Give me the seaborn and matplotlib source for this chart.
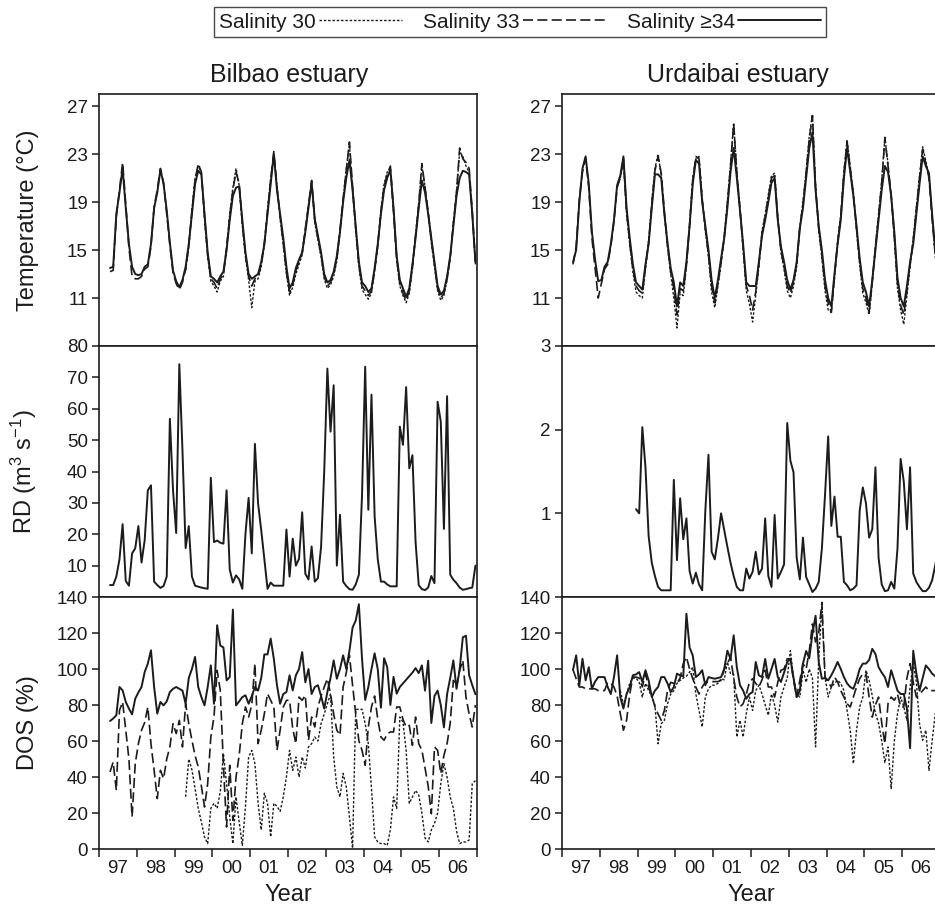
import numpy as np
import matplotlib
matplotlib.use("Agg")
import matplotlib.pyplot as plt
from matplotlib.lines import Line2D
from matplotlib.ticker import FixedLocator, NullFormatter, FixedFormatter
import seaborn as sns

sns.set_theme(style="ticks")
plt.rcParams["font.family"] = ["Liberation Sans", "DejaVu Sans"]
plt.rcParams["mathtext.fontset"] = "custom"
plt.rcParams["mathtext.rm"] = "Liberation Sans"
plt.rcParams["mathtext.it"] = "Liberation Sans:italic"
plt.rcParams["mathtext.default"] = "regular"

nan = np.nan


def monthly(*years):
    """Join yearly lists of monthly values into one series."""
    return np.array([v for yr in years for v in yr], dtype=float)


# monthly sampling: April 1997 .. December 2006 (mid-month, decimal years)
t = 1997 + (np.arange(117) + 3.5) / 12.0

series_labels = ["Salinity 30", "Salinity 33", "Salinity \u226534"]
year_labels = ["97", "98", "99", "00", "01", "02", "03", "04", "05", "06"]

# ---------------- Bilbao estuary: temperature (deg C) ----------------
bil_temp_30 = monthly(
    [nan] * 9,
    [nan] * 12,
    [nan, nan, nan, 13.3, 15.2, 18.4, 21.0, 22.0, 21.4, 17.6, 14.4, 12.4],
    [12.0, 11.5, 12.4, 12.8, 15.0, 18.0, 20.2, 21.8, 20.4, 17.0, 14.4, 12.5],
    [10.2, 12.4, 12.6, 13.6, 15.4, 18.4, 21.0, 23.0, 20.4, 17.6, 15.4, 13.0],
    [11.2, 11.9, 13.0, 13.8, 14.6, 16.6, 18.8, 20.7, 17.3, 15.8, 14.4, 12.6],
    [11.8, 12.1, 12.8, 14.1, 16.5, 19.2, 21.8, 23.8, 20.0, 16.6, 13.6, 11.7],
    [11.3, 10.9, 11.4, 13.2, 15.3, 18.3, 20.5, 21.5, 21.8, 18.1, 14.1, 12.0],
    [11.2, 10.6, 11.4, 13.4, 16.3, 18.9, 22.0, 20.3, 18.0, 15.6, 13.6, 11.6],
    [10.8, 11.2, 12.5, 14.3, 17.3, 19.9, 23.2, 22.8, 22.0, 21.5, 18.0, 13.8],
)
bil_temp_33 = monthly(
    [13.2, 13.3, 17.8, 20.0, 22.3, 18.8, 15.2, 12.8, 12.6],
    [12.6, 12.8, 13.4, 13.6, 15.3, 18.6, 20.0, 21.8, 20.6, 18.0, 15.4, 13.1],
    [12.2, 11.7, 12.3, 13.4, 15.4, 18.2, 20.8, 22.2, 21.5, 17.8, 14.6, 12.6],
    [12.3, 11.8, 12.6, 13.0, 15.2, 17.8, 20.0, 21.5, 20.5, 17.2, 14.6, 12.8],
    [12.0, 12.6, 12.8, 13.8, 15.6, 18.2, 20.8, 23.2, 20.2, 17.8, 15.6, 13.2],
    [11.5, 12.1, 13.3, 14.0, 14.8, 16.8, 18.7, 20.8, 17.5, 16.0, 14.6, 12.8],
    [12.0, 12.3, 13.0, 14.3, 16.6, 19.3, 21.6, 24.0, 20.3, 16.8, 13.8, 12.0],
    [11.6, 11.2, 11.6, 13.3, 15.4, 18.2, 20.3, 21.3, 22.0, 18.3, 14.3, 12.2],
    [11.4, 10.8, 11.6, 13.6, 16.2, 18.8, 22.2, 20.2, 18.2, 15.8, 13.8, 11.8],
    [11.0, 11.4, 12.6, 14.4, 17.2, 19.8, 23.5, 22.6, 22.3, 21.8, 18.2, 14.0],
)
bil_temp_34 = monthly(
    [13.5, 13.6, 18.0, 19.8, 21.8, 18.5, 15.5, 13.6, 13.0],
    [12.9, 13.0, 13.6, 13.8, 15.5, 18.5, 19.8, 21.7, 20.5, 18.3, 15.6, 13.3],
    [12.4, 11.9, 12.5, 13.6, 15.5, 18.0, 20.5, 21.6, 21.3, 18.0, 14.8, 12.8],
    [12.6, 12.3, 12.8, 13.2, 15.0, 17.5, 19.5, 20.2, 20.3, 17.5, 14.8, 13.0],
    [12.6, 12.8, 13.0, 14.0, 15.5, 18.0, 20.5, 23.0, 20.0, 18.0, 16.0, 13.6],
    [11.8, 12.3, 13.5, 14.2, 14.8, 16.5, 18.5, 20.6, 17.6, 16.2, 14.8, 13.0],
    [12.3, 12.5, 13.2, 14.5, 16.5, 19.0, 21.0, 22.5, 20.0, 17.0, 14.0, 12.3],
    [12.0, 11.5, 11.8, 13.5, 15.5, 18.0, 20.0, 21.0, 21.7, 18.5, 14.5, 12.5],
    [11.8, 11.1, 11.8, 13.8, 16.0, 18.5, 20.8, 19.8, 18.0, 16.0, 14.0, 12.0],
    [11.3, 11.6, 12.8, 14.5, 17.0, 19.5, 21.0, 21.6, 21.5, 21.3, 18.0, 14.0],
)

# ---------------- Urdaibai estuary: temperature (deg C) ----------------
urd_temp_30 = monthly(
    [nan] * 9,
    [nan] * 6 + [21.0, 22.5, 18.0, 15.5, 13.2, 11.5],
    [11.2, 11.0, 13.4, 15.8, 19.0, 21.8, 23.0, 21.2, 18.0, 15.2, 13.0, 11.0],
    [8.5, 11.4, 11.2, 13.6, 17.2, 21.0, 22.6, 22.8, 19.4, 16.6, 14.4, 11.5],
    [10.2, 12.0, 13.8, 16.2, 19.0, 22.2, 25.6, 21.6, 18.6, 15.0, 11.6, 10.5],
    [9.0, 11.2, 13.6, 16.6, 18.0, 19.6, 21.2, 21.4, 17.8, 14.8, 13.4, 11.6],
    [11.0, 12.0, 13.6, 17.0, 19.0, 21.6, 24.5, 26.3, 20.4, 16.6, 14.4, 11.6],
    [10.0, 9.8, 12.6, 15.8, 18.0, 21.6, 24.2, 22.0, 19.8, 16.6, 13.8, 11.4],
    [10.6, 9.6, 12.2, 15.4, 18.0, 20.8, 24.4, 22.2, 19.4, 16.0, 11.8, 10.0],
    [8.8, 11.2, 13.6, 16.0, 18.6, 21.2, 23.6, 22.4, 21.2, 17.8, 14.4, 13.0],
)
urd_temp_33 = monthly(
    [13.8, 15.3, 19.2, 21.5, 22.6, 20.2, 16.0, 13.5, 11.0],
    [12.2, 13.4, 13.8, 15.3, 17.4, 20.2, 21.0, 22.6, 18.2, 15.6, 13.4, 12.0],
    [11.6, 11.4, 13.6, 15.6, 18.8, 21.6, 22.8, 21.4, 18.2, 15.4, 13.2, 11.8],
    [9.6, 11.8, 11.6, 13.8, 17.0, 20.8, 22.8, 22.6, 19.2, 16.8, 14.6, 12.0],
    [10.6, 12.2, 14.0, 16.0, 18.8, 22.0, 25.5, 21.4, 18.4, 15.2, 12.0, 11.2],
    [10.0, 11.5, 13.8, 16.4, 17.8, 19.4, 21.0, 21.2, 17.6, 15.0, 13.6, 12.0],
    [11.4, 12.3, 13.8, 16.9, 18.8, 21.4, 24.2, 26.2, 20.2, 16.8, 14.6, 12.0],
    [10.6, 9.8, 12.8, 15.6, 17.8, 21.4, 24.0, 21.8, 19.6, 16.8, 14.0, 11.8],
    [11.0, 9.8, 12.4, 15.2, 17.8, 20.6, 24.3, 22.0, 19.6, 16.2, 12.2, 10.4],
    [9.6, 11.6, 13.8, 15.8, 18.4, 21.0, 23.4, 22.2, 21.0, 17.6, 14.6, 13.2],
)
urd_temp_34 = monthly(
    [14.0, 15.0, 19.0, 21.8, 22.8, 20.5, 16.5, 14.2, 12.4],
    [12.5, 13.6, 14.0, 15.5, 17.5, 20.4, 21.2, 22.8, 18.5, 16.0, 13.8, 12.3],
    [12.0, 11.7, 13.8, 15.5, 18.5, 21.3, 21.3, 21.0, 18.0, 15.6, 13.5, 12.3],
    [10.3, 12.3, 12.0, 14.0, 17.0, 20.5, 22.5, 22.2, 19.0, 17.0, 15.0, 12.5],
    [11.0, 12.5, 14.3, 16.0, 18.5, 21.5, 23.5, 21.0, 18.3, 15.5, 12.3, 12.0],
    [12.0, 12.0, 14.0, 16.2, 17.5, 19.0, 20.6, 21.0, 17.5, 15.3, 14.0, 12.5],
    [11.7, 12.5, 14.0, 16.8, 18.5, 21.0, 23.5, 24.8, 20.0, 17.0, 15.0, 12.5],
    [11.0, 10.3, 13.0, 15.5, 17.5, 21.0, 23.5, 21.5, 19.5, 17.0, 14.3, 12.3],
    [11.5, 10.3, 12.5, 15.0, 17.5, 20.0, 22.0, 21.5, 19.5, 16.5, 12.7, 11.0],
    [10.3, 12.0, 14.0, 15.5, 18.0, 20.5, 22.8, 22.0, 21.4, 18.0, 15.0, 13.5],
)

# ---------------- river discharge (m3 s-1) ----------------
bil_rd = monthly(
    [3.8, 3.8, 6.5, 12.0, 23.2, 5.1, 3.6, 13.9, 15.5],
    [22.6, 11.0, 18.1, 34.0, 35.6, 4.9, 3.8, 2.9, 3.5, 6.5, 56.8, 34.0],
    [20.4, 74.2, 46.6, 15.6, 22.6, 6.5, 3.6, 3.3, 3.0, 2.8, 2.6, 38.0],
    [17.5, 18.0, 17.3, 17.0, 34.0, 8.8, 4.6, 6.9, 5.6, 2.6, 20.2, 31.6],
    [13.9, 48.8, 29.8, 21.3, 12.0, 2.6, 4.6, 3.6, 3.6, 3.6, 3.6, 21.5],
    [6.5, 18.6, 10.0, 12.2, 27.0, 7.4, 5.6, 16.1, 4.9, 6.0, 16.0, 40.0],
    [72.8, 52.7, 67.5, 10.0, 26.2, 4.9, 3.5, 2.5, 2.3, 4.0, 7.1, 32.5],
    [73.4, 27.8, 64.5, 25.7, 12.0, 4.9, 4.9, 4.0, 3.4, 3.4, 3.4, 54.3],
    [48.5, 66.9, 41.0, 45.2, 17.5, 3.8, 2.5, 2.2, 3.0, 6.7, 4.4, 62.2],
    [55.9, 21.7, 64.0, 7.1, 5.5, 4.4, 3.0, 2.3, 2.5, 2.8, 3.0, 10.0],
)
urd_rd = monthly(
    [nan] * 9,
    [nan] * 11 + [1.05],
    [1.0, 2.03, 1.55, 0.73, 0.41, 0.25, 0.12, 0.08, 0.08, 0.08, 0.08, 1.4],
    [0.44, 1.18, 0.69, 0.94, 0.31, 0.16, 0.29, 0.15, 0.08, 1.03, 1.70, 0.54],
    [0.45, 0.7, 1.0, 0.8, 0.6, 0.41, 0.25, 0.12, 0.08, 0.08, 0.34, 0.22],
    [0.3, 0.54, 0.27, 0.34, 0.94, 0.25, 0.12, 0.98, 0.22, 0.30, 0.39, 2.08],
    [1.63, 1.49, 0.47, 0.21, 0.71, 0.24, 0.15, 0.06, 0.1, 0.18, 0.58, 1.22],
    [1.92, 0.85, 1.20, 0.72, 0.72, 0.18, 0.14, 0.08, 0.1, 0.14, 1.03, 1.31],
    [1.12, 0.71, 0.81, 1.55, 0.47, 0.15, 0.07, 0.08, 0.18, 0.1, 0.58, 1.65],
    [1.38, 0.81, 1.55, 0.28, 0.18, 0.12, 0.07, 0.07, 0.11, 0.2, 0.38, 0.6],
)

# ---------------- dissolved oxygen saturation (%) ----------------
bil_dos_30 = monthly(
    [nan] * 9,
    [nan] * 12,
    [nan, nan, nan, 29, 50, 44, 33.6, 22.6, 15, 6.7, 3, 22.6],
    [25.4, 22.6, 31.9, 53, 36.3, 17.8, 3, 28.9, 15, 2, 23.7, 51.1],
    [54.8, 47.4, 25.4, 10.6, 31, 25.4, 6.7, 25.4, 23.7, 20.9, 28.9, 40],
    [54.8, 43.7, 51.1, 40, 51.1, 45, 56.7, 58.5, 62.2, 60, 69.6, 75],
    [80.7, 86.1, 51.1, 34.5, 28.9, 42, 34.5, 17.8, 0.5, 77.6, 77.6, 77.6],
    [69.6, 58.5, 33.6, 6.7, 3.9, 3, 3, 2, 10.6, 28.9, 22.6, 73.3],
    [70.5, 54.8, 25.4, 28.9, 32.5, 30, 20, 6.1, 3.9, 10.6, 14.3, 20],
    [36.3, 47.4, 40, 28.9, 22.6, 10, 3, 3.9, 3.9, 5, 36.3, 38],
)
bil_dos_33 = monthly(
    [42.8, 48.3, 32.6, 77, 81.7, 66, 50, 17.8, 47.4],
    [58.5, 66, 70.3, 78.9, 58.5, 43.7, 28, 43.7, 39.1, 50, 56.7, 69.6],
    [64.1, 71.5, 56.7, 80.7, 69.6, 60.4, 52, 45.6, 35, 23.3, 36.3, 62.2],
    [73.3, 99.3, 88.1, 46.5, 12.2, 46.5, 15.9, 40, 52, 69.6, 78.9, 73.3],
    [80, 103, 58.5, 66, 75.2, 86.3, 82.6, 78.9, 54.8, 66, 78.9, 82.6],
    [82.6, 66.9, 58.5, 84.4, 82.6, 85.4, 60.4, 73.3, 67.8, 78.9, 85, 90],
    [94.6, 86.1, 75, 66, 63.2, 90, 98, 107.6, 91, 75, 60, 54.8],
    [46.5, 67.8, 78.9, 85, 72, 62.2, 60.4, 64, 65, 65, 78.9, 78.9],
    [72, 67.8, 68.7, 57.6, 73.3, 58.5, 55, 45, 35, 19.6, 56.7, 54.8],
    [41.9, 52, 58.5, 70, 93.7, 90, 99.3, 104.8, 84.4, 75, 67.8, 80],
)
bil_dos_34 = monthly(
    [71.1, 72.5, 74.3, 90, 88.1, 81.7, 78, 74.8, 83.5],
    [87, 90, 98.3, 103, 110.4, 90, 75.2, 81.7, 79.8, 82, 87.2, 89],
    [90, 89, 88, 80.7, 95, 100, 106.7, 90, 84.4, 79.8, 90, 102],
    [80.7, 124.3, 113, 112, 93.7, 95.5, 133, 79.8, 82, 84.4, 85.4, 80.7],
    [85, 90, 88, 95, 108.1, 108.1, 116.9, 105.6, 91, 80.7, 86.1, 87.2],
    [96.5, 88.1, 96.5, 100, 109.4, 92.6, 100, 86.1, 90, 91, 85, 78],
    [87.2, 95, 104.8, 94.6, 100, 107.6, 100, 110, 123, 127, 136, 105.6],
    [82.8, 90, 100, 108.7, 99.8, 78.5, 106, 101, 80, 95.6, 86.3, 90],
    [92, 94, 96, 98, 100.5, 97.7, 102, 88, 104.6, 70, 85, 88],
    [80, 67.6, 86, 95, 104.8, 89, 100, 117.6, 118.5, 96.5, 91, 86],
)
urd_dos_30 = monthly(
    [nan] * 9,
    [nan] * 6 + [88, 80, 86, 92, 95, 95],
    [92.6, 84.4, 92, 88, 85, 80, 58.5, 69.6, 71.5, 80.7, 86, 88],
    [92, 93.7, 95, 96, 98.3, 101, 86, 77, 67.8, 84.4, 89, 91],
    [91, 92, 94.6, 94, 103.9, 97.4, 97, 62.2, 71.5, 62.2, 75.2, 84.4],
    [77, 88, 91, 86.1, 80, 74.3, 86.1, 80, 70.5, 84.4, 90, 95],
    [110.2, 95.5, 86.1, 84.4, 99.3, 92.6, 100, 95, 56.7, 105.7, 135, 95.5],
    [84.4, 90, 92, 93.7, 92, 88, 77, 66, 47.4, 66, 78.9, 84.4],
    [99.3, 93.7, 85, 75.2, 70, 60, 48, 56.7, 33.5, 60, 75.2, 84.4],
    [79, 71.5, 90, 103, 92.6, 69.6, 60.4, 66, 43.7, 60, 75.2, 80],
)
urd_dos_33 = monthly(
    [99.6, 94.6, 90, 90, 89, 89, 89, 89, 88],
    [88, 88, 92.6, 92, 90, 85, 75.2, 66, 71.5, 86, 95.5, 95.5],
    [95, 90, 97.4, 90, 85, 79, 75, 71.5, 77, 88, 92.6, 92],
    [92, 95, 103, 106.7, 100, 94.6, 90, 86.1, 90, 92.6, 92.6, 93],
    [93, 93, 93.7, 100, 103, 106.7, 95, 84.4, 79, 80.7, 86, 92.6],
    [94.6, 92, 90, 94, 99.3, 90, 90, 84.4, 92.6, 99.3, 100, 105.7],
    [105.7, 93.7, 84.4, 93.7, 103, 100, 110, 125, 115, 120, 137, 95.5],
    [92.6, 90, 95.5, 92.8, 88, 84.4, 80.7, 78.9, 84.4, 90, 94.6, 97.4],
    [97.4, 84.4, 73.3, 80, 84.4, 70, 58.5, 80.7, 84.4, 82.6, 86.1, 78.9],
    [78.9, 95, 103, 92.6, 84.4, 86, 88, 90, 88, 88, 88, 88],
)
urd_dos_34 = monthly(
    [99.6, 107.6, 91, 105.7, 93.7, 101, 89, 93, 95.5],
    [95.5, 95.5, 90, 86.1, 95.5, 107.6, 84.4, 78, 86.1, 90, 96.5, 97],
    [98.3, 92.8, 99.3, 93.7, 84.4, 88, 90, 95.5, 95.5, 92, 87.2, 90],
    [97.4, 96.5, 96, 130.7, 112, 107.6, 95.5, 97, 99.3, 91, 95.5, 95],
    [94.6, 95, 95.5, 100, 110.2, 105.6, 118.7, 101, 91, 88, 83.5, 86.1],
    [87.2, 103.9, 96.5, 95.5, 105.6, 94.6, 100, 105.6, 95.5, 92.8, 98, 103.9],
    [105.7, 95, 84.4, 88, 103, 110, 106, 119.6, 129.6, 103.9, 94.6, 95],
    [93.7, 96.5, 100, 103.9, 100, 95.5, 92, 90, 89, 93.7, 100, 103],
    [103, 105, 111.2, 108.4, 101, 98, 95.5, 90, 99.3, 93.7, 88, 86.1],
    [86.1, 78, 56, 110.2, 97.4, 88, 95, 102, 100, 97.4, 96, 95],
)

# ---------------- styling ----------------
INK = "#1c1c1c"
line_styles = {
    "Salinity 30": dict(linewidth=1.0, linestyle=(0, (1.8, 1.3))),
    "Salinity 33": dict(linewidth=1.2, linestyle=(0, (6.0, 2.6))),
    "Salinity \u226534": dict(linewidth=1.4, linestyle="-"),
}

W, H = 935, 907
fig = plt.figure(figsize=(W / 100, H / 100), dpi=100)


def add_axes(x0, top, bottom, width=378):
    return fig.add_axes([x0 / W, 1 - bottom / H, width / W, (bottom - top) / H])


rows = [(94, 346), (346, 597), (597, 849)]
cols = [99, 562]
axes = [[add_axes(c, r[0], r[1]) for c in cols] for r in rows]


def draw(ax, values, label):
    sns.lineplot(x=t, y=values, ax=ax, color=INK, estimator=None,
                 sort=False, legend=False, **line_styles[label])


temp_sets = [(bil_temp_30, bil_temp_33, bil_temp_34),
             (urd_temp_30, urd_temp_33, urd_temp_34)]
dos_sets = [(bil_dos_30, bil_dos_33, bil_dos_34),
            (urd_dos_30, urd_dos_33, urd_dos_34)]

for j in range(2):
    for vals, lab in zip(temp_sets[j], series_labels):
        draw(axes[0][j], vals, lab)
    for vals, lab in zip(dos_sets[j], series_labels):
        draw(axes[2][j], vals, lab)
draw(axes[1][0], bil_rd, "Salinity \u226534")
draw(axes[1][1], urd_rd, "Salinity \u226534")

TICK_FS = 13.5
for i, row in enumerate(axes):
    for j, ax in enumerate(row):
        ax.set_xlim(1997, 2007)
        for s in ax.spines.values():
            s.set_visible(True)
            s.set_color(INK)
            s.set_linewidth(1.2)
        ax.set_xlabel("")
        ax.set_ylabel("")
        ax.xaxis.set_major_locator(FixedLocator(list(range(1997, 2008))))
        ax.xaxis.set_minor_locator(FixedLocator([y + 0.5 for y in range(1997, 2007)]))
        ax.xaxis.set_major_formatter(NullFormatter())
        if i == 2:
            ax.xaxis.set_minor_formatter(FixedFormatter(year_labels))
            ax.tick_params(axis="x", which="major", length=6, width=1.1,
                           direction="out", color=INK, labelbottom=False)
            ax.tick_params(axis="x", which="minor", length=0, pad=8,
                           labelsize=TICK_FS, labelcolor=INK)
        else:
            ax.xaxis.set_minor_formatter(NullFormatter())
            ax.tick_params(axis="x", which="both", length=0, labelbottom=False)
        ax.tick_params(axis="y", which="major", length=5, width=1.1,
                       direction="out", color=INK, pad=3,
                       labelsize=TICK_FS, labelcolor=INK)
        ax.tick_params(axis="y", which="minor", length=0)

# y scales
for ax in axes[0]:
    ax.set_ylim(7, 28)
    ax.set_yticks([11, 15, 19, 23, 27])
axes[1][0].set_ylim(0, 80)
axes[1][0].set_yticks([10, 20, 30, 40, 50, 60, 70, 80])
axes[1][1].set_ylim(0, 3)
axes[1][1].set_yticks([1, 2, 3])
for ax in axes[2]:
    ax.set_ylim(0, 140)
    ax.set_yticks([0, 20, 40, 60, 80, 100, 120, 140])

LABEL_FS = 17
axes[0][0].set_ylabel("Temperature (\u00b0C)", fontsize=LABEL_FS, color=INK)
axes[1][0].set_ylabel(r"RD (m$^{3}$ s$^{-1}$)", fontsize=LABEL_FS, color=INK)
axes[2][0].set_ylabel("DOS (%)", fontsize=LABEL_FS, color=INK)
for r in range(3):
    axes[r][0].yaxis.set_label_coords(-0.158, 0.5)

for j, ax in enumerate(axes[2]):
    ax.set_xlabel("Year", fontsize=LABEL_FS, color=INK, labelpad=5)

fig.text(289 / W, 1 - 75 / H, "Bilbao estuary", ha="center", va="center",
         fontsize=18, color=INK)
fig.text(738 / W, 1 - 75 / H, "Urdaibai estuary", ha="center", va="center",
         fontsize=18, color=INK)

handles = [Line2D([], [], color=INK, **line_styles[lab]) for lab in series_labels]
leg = fig.legend(handles, series_labels, loc="center",
                 bbox_to_anchor=(520 / W, 1 - 22 / H), ncol=3,
                 markerfirst=False, frameon=True, fancybox=False,
                 fontsize=15, handlelength=4.0, handletextpad=0.15,
                 columnspacing=1.0, borderpad=0.25, borderaxespad=0)
leg.get_frame().set_edgecolor(INK)
leg.get_frame().set_linewidth(1.0)
for txt in leg.get_texts():
    txt.set_color(INK)

fig.savefig("out.png", dpi=100)
